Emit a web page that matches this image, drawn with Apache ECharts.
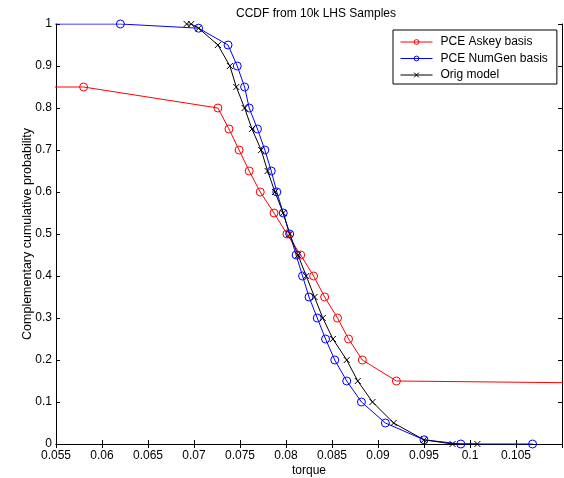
<!DOCTYPE html>
<html>
<head>
<meta charset="utf-8">
<script src="https://cdn.jsdelivr.net/npm/echarts@6/dist/echarts.min.js"></script>
<style>html,body{margin:0;padding:0;background:#fff}#c{width:564px;height:478px}</style>
</head>
<body>
<div id="c"></div>
<script>
// PCE Askey basis (torque, probability); first/last points lie outside the plotted range
var askeyX = [0.040, 0.0580, 0.0726, 0.0738, 0.0749, 0.0760, 0.0772, 0.0787, 0.0801, 0.0816, 0.0830, 0.0842, 0.0856, 0.0868, 0.0883, 0.0920, 0.130];
var askeyY = [0.85, 0.85, 0.80, 0.75, 0.70, 0.65, 0.60, 0.55, 0.50, 0.45, 0.40, 0.35, 0.30, 0.25, 0.20, 0.15, 0.1416];
// PCE NumGen basis
var numgenX = [0.050, 0.0620, 0.0705, 0.0737, 0.0747, 0.0755, 0.0760, 0.0769, 0.0777, 0.0784, 0.0790, 0.0797, 0.0804, 0.0811, 0.0818, 0.0825, 0.0834, 0.0843, 0.0853, 0.0866, 0.0882, 0.0908, 0.0950, 0.0990, 0.1068];
var numgenY = [1.0, 1.0, 0.99, 0.95, 0.90, 0.85, 0.80, 0.75, 0.70, 0.65, 0.60, 0.55, 0.50, 0.45, 0.40, 0.35, 0.30, 0.25, 0.20, 0.15, 0.10, 0.05, 0.01, 0.0, 0.0];
// Orig model
var origX = [0.0692, 0.0697, 0.0705, 0.0726, 0.0739, 0.0746, 0.0755, 0.0763, 0.0773, 0.0780, 0.0788, 0.0797, 0.0804, 0.0813, 0.0822, 0.0831, 0.0840, 0.0851, 0.0866, 0.0878, 0.0894, 0.0917, 0.0950, 0.0981, 0.1008];
var origY = [1.0, 1.0, 0.99, 0.95, 0.90, 0.85, 0.80, 0.75, 0.70, 0.65, 0.60, 0.55, 0.50, 0.45, 0.40, 0.35, 0.30, 0.25, 0.20, 0.15, 0.10, 0.05, 0.01, 0.0, 0.0];

var seriesNames = ['PCE Askey basis', 'PCE NumGen basis', 'Orig model'];
var titleText = 'CCDF from 10k LHS Samples';
var xName = 'torque';
var yName = 'Complementary cumulative probability';

function pairs(xs, ys) { return xs.map(function (x, i) { return [x, ys[i]]; }); }

var FONT = '"Liberation Sans", Arial, Helvetica, sans-serif';
var chart = echarts.init(document.getElementById('c'), null, { renderer: 'canvas' });

var axisCommon = {
  axisLine: { show: true, lineStyle: { color: '#000', width: 1 } },
  axisTick: { show: true, inside: true, length: 4, lineStyle: { color: '#000' } },
  splitLine: { show: false }
};

chart.setOption({
  animation: false,
  backgroundColor: '#fff',
  textStyle: { fontFamily: FONT },
  title: {
    text: titleText, left: 311, textAlign: 'center', top: 3,
    textStyle: { fontSize: 12, fontWeight: 'normal', color: '#000', fontFamily: FONT }
  },
  grid: { left: 56, top: 24, right: 2, bottom: 34, containLabel: false, outerBoundsMode: 'none' },
  legend: {
    orient: 'vertical', left: 393, top: 30,
    data: seriesNames,
    itemWidth: 32, itemHeight: 6, itemGap: 4.5,
    padding: [6, 9, 3, 7],
    borderColor: '#000', borderWidth: 1, backgroundColor: '#fff', borderRadius: 0,
    lineStyle: { width: 1 },
    itemStyle: { borderWidth: 1, color: 'rgba(255,255,255,0)' },
    textStyle: { fontSize: 12, color: '#000', fontFamily: FONT, padding: [0, 0, 0, 3] }
  },
  xAxis: [
    Object.assign({}, axisCommon, {
      type: 'value', min: 0.055, max: 0.11, interval: 0.005, position: 'bottom',
      name: xName, nameLocation: 'middle', nameGap: 21, nameMoveOverlap: false,
      nameTextStyle: { fontSize: 12, color: '#000', fontFamily: FONT },
      axisLabel: {
        fontSize: 12, color: '#000', margin: 6, fontFamily: FONT,
        formatter: function (v) { return v > 0.1099 ? '' : String(Number(v.toFixed(4))); }
      }
    }),
    Object.assign({}, axisCommon, {
      type: 'value', min: 0.055, max: 0.11, interval: 0.005, position: 'top',
      axisLabel: { show: false }
    })
  ],
  yAxis: [
    Object.assign({}, axisCommon, {
      type: 'value', min: 0, max: 1, interval: 0.1, position: 'left',
      name: yName, nameLocation: 'middle', nameGap: 22, nameMoveOverlap: false,
      nameTextStyle: { fontSize: 12.5, color: '#000', fontFamily: FONT },
      axisLabel: {
        fontSize: 12, color: '#000', margin: 4, fontFamily: FONT,
        formatter: function (v) { return String(Number(v.toFixed(2))); }
      }
    }),
    Object.assign({}, axisCommon, {
      type: 'value', min: 0, max: 1, interval: 0.1, position: 'right',
      axisLabel: { show: false }
    })
  ],
  series: [
    {
      name: seriesNames[0], type: 'line', data: pairs(askeyX, askeyY),
      symbol: 'circle', symbolSize: 8, clip: true,
      lineStyle: { color: '#ff0000', width: 1 },
      itemStyle: { color: 'rgba(255,255,255,0)', borderColor: '#ff0000', borderWidth: 1 }
    },
    {
      name: seriesNames[1], type: 'line', data: pairs(numgenX, numgenY),
      symbol: 'circle', symbolSize: 8, clip: true,
      lineStyle: { color: '#0000ff', width: 1 },
      itemStyle: { color: 'rgba(255,255,255,0)', borderColor: '#0000ff', borderWidth: 1 }
    },
    {
      name: seriesNames[2], type: 'line', data: pairs(origX, origY),
      symbol: 'path://M0,0L10,10M10,0L0,10', symbolSize: 6, clip: true,
      lineStyle: { color: '#000', width: 1 },
      itemStyle: { color: '#000', borderColor: '#000', borderWidth: 1 }
    }
  ]
});
</script>
</body>
</html>
